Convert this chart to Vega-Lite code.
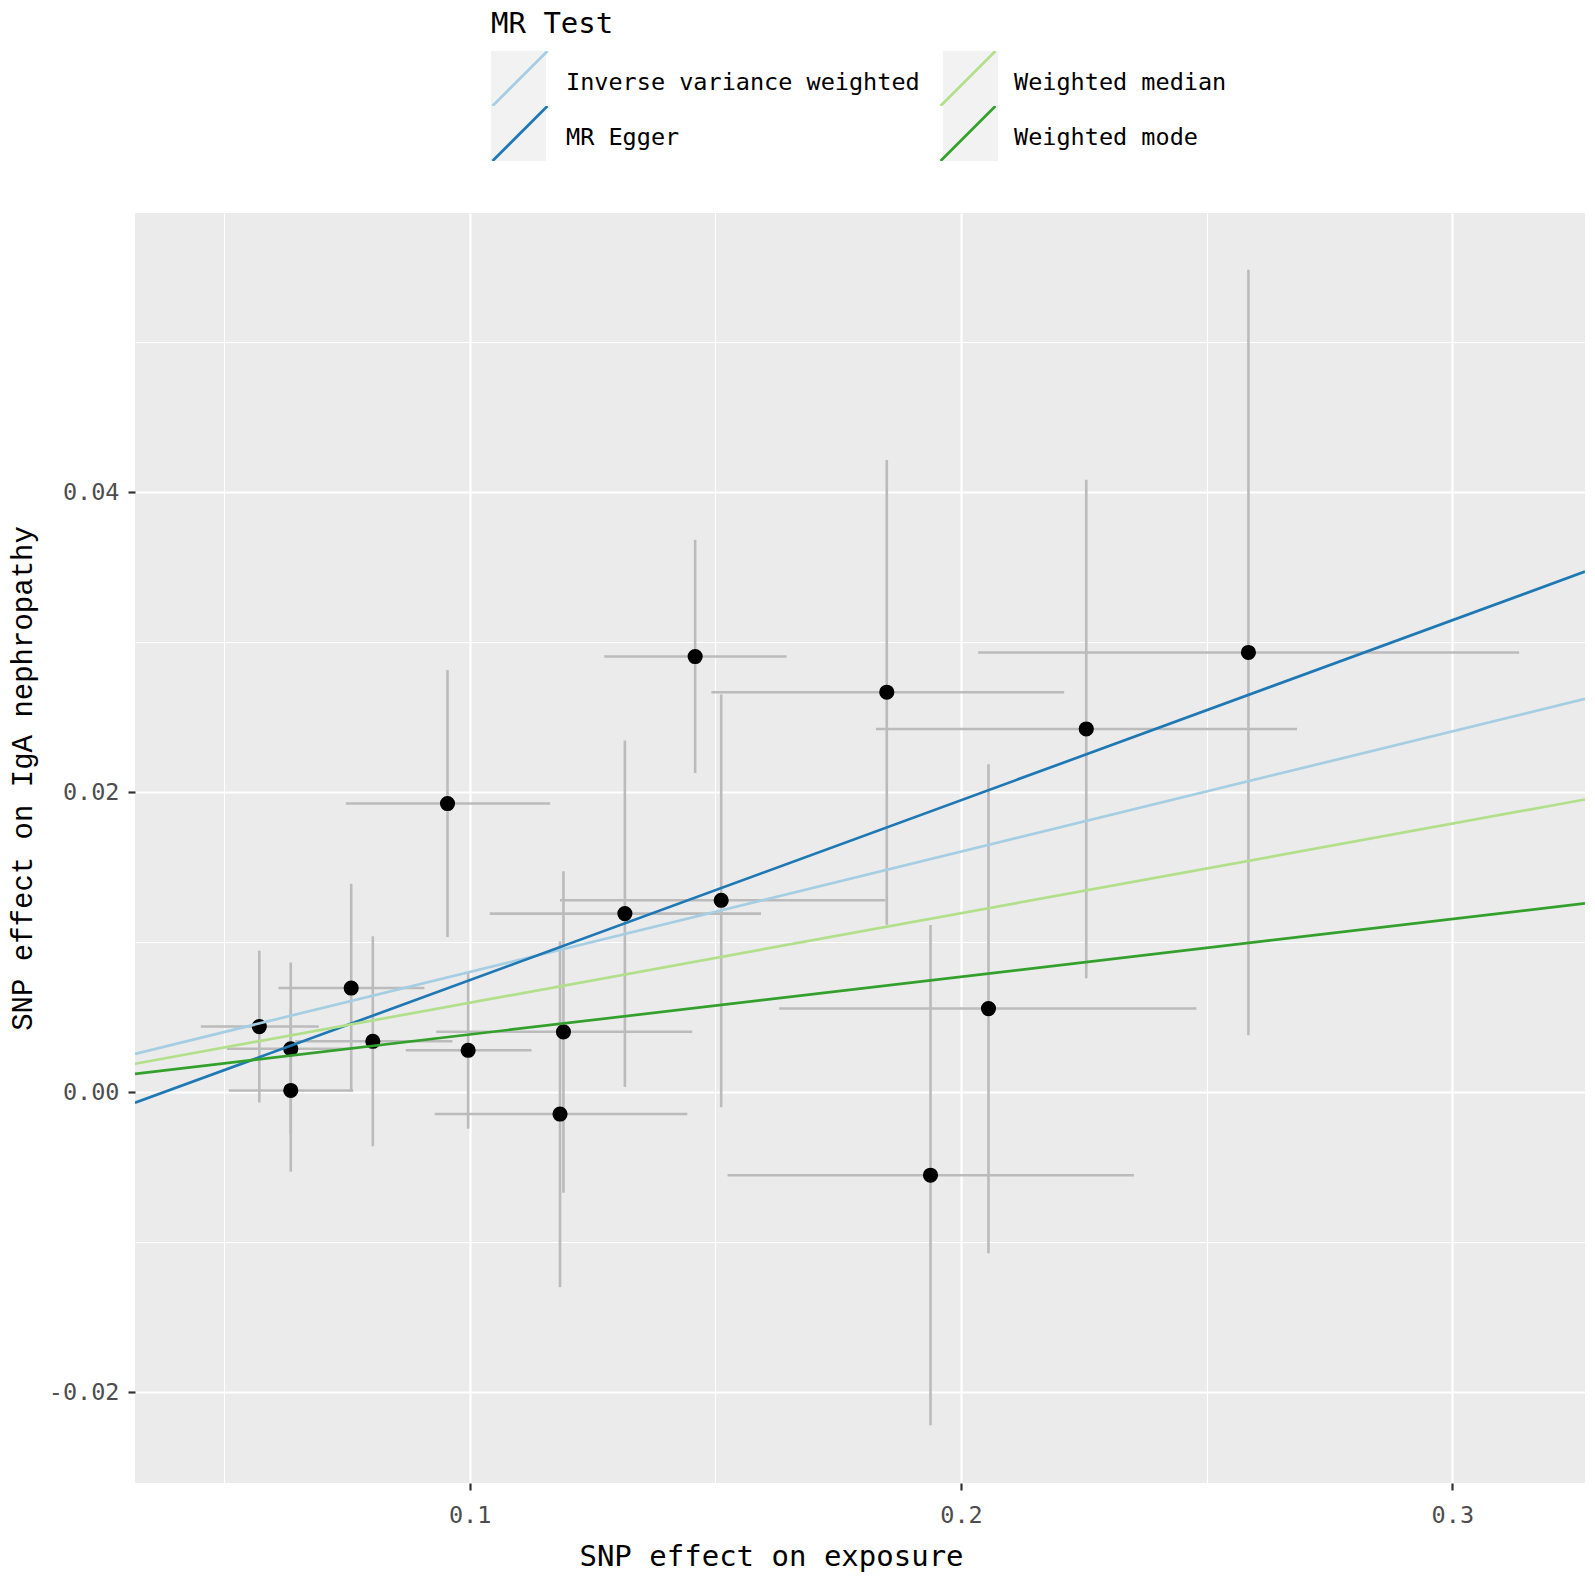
{
  "$schema": "https://vega.github.io/schema/vega-lite/v6.json",
  "description": "MR scatter plot: SNP effect on exposure vs SNP effect on IgA nephropathy",
  "width": 1450,
  "height": 1270,
  "autosize": {"type": "none"},
  "padding": {"left": 135, "top": 213, "right": 10, "bottom": 96},
  "background": "white",
  "config": {
    "view": {"fill": "#EBEBEB", "stroke": null},
    "axis": {
      "domain": false,
      "gridColor": "white",
      "tickColor": "#333333",
      "tickWidth": 2.2,
      "tickSize": 7,
      "labelFont": "DejaVu Sans Mono",
      "labelFontSize": 23.5,
      "labelColor": "#4D4D4D",
      "titleFontWeight": "normal",
      "titleColor": "black",
      "titleFontSize": 29
    }
  },
  "datasets": {
    "snps": [
      {"bx": 0.0572, "by": 0.00438, "bx_lo": 0.0453, "bx_hi": 0.0693, "by_lo": -0.00068, "by_hi": 0.00944},
      {"bx": 0.0636, "by": 0.00290, "bx_lo": 0.0506, "bx_hi": 0.0762, "by_lo": -0.00285, "by_hi": 0.00865},
      {"bx": 0.0636, "by": 0.00012, "bx_lo": 0.0510, "bx_hi": 0.0763, "by_lo": -0.00530, "by_hi": 0.00554},
      {"bx": 0.0759, "by": 0.00695, "bx_lo": 0.0611, "bx_hi": 0.0908, "by_lo": 0.00005, "by_hi": 0.01390},
      {"bx": 0.0803, "by": 0.00340, "bx_lo": 0.0645, "bx_hi": 0.0965, "by_lo": -0.00360, "by_hi": 0.01040},
      {"bx": 0.0997, "by": 0.00280, "bx_lo": 0.0870, "bx_hi": 0.1126, "by_lo": -0.00243, "by_hi": 0.00800},
      {"bx": 0.0955, "by": 0.01925, "bx_lo": 0.0748, "bx_hi": 0.1164, "by_lo": 0.01035, "by_hi": 0.02815},
      {"bx": 0.1191, "by": 0.00403, "bx_lo": 0.0932, "bx_hi": 0.1453, "by_lo": -0.00670, "by_hi": 0.01474},
      {"bx": 0.1184, "by": -0.00145, "bx_lo": 0.0929, "bx_hi": 0.1443, "by_lo": -0.01300, "by_hi": 0.01005},
      {"bx": 0.1316, "by": 0.01191, "bx_lo": 0.1041, "bx_hi": 0.1593, "by_lo": 0.00035, "by_hi": 0.02346},
      {"bx": 0.1459, "by": 0.02905, "bx_lo": 0.1274, "bx_hi": 0.1645, "by_lo": 0.02128, "by_hi": 0.03683},
      {"bx": 0.1512, "by": 0.01280, "bx_lo": 0.1184, "bx_hi": 0.1846, "by_lo": -0.00100, "by_hi": 0.02652},
      {"bx": 0.1849, "by": 0.02667, "bx_lo": 0.1492, "bx_hi": 0.2210, "by_lo": 0.01116, "by_hi": 0.04216},
      {"bx": 0.1938, "by": -0.00553, "bx_lo": 0.1525, "bx_hi": 0.2352, "by_lo": -0.02220, "by_hi": 0.01115},
      {"bx": 0.2056, "by": 0.00558, "bx_lo": 0.1630, "bx_hi": 0.2479, "by_lo": -0.01074, "by_hi": 0.02187},
      {"bx": 0.2255, "by": 0.02422, "bx_lo": 0.1827, "bx_hi": 0.2684, "by_lo": 0.00760, "by_hi": 0.04084},
      {"bx": 0.2585, "by": 0.02932, "bx_lo": 0.2035, "bx_hi": 0.3136, "by_lo": 0.00380, "by_hi": 0.05483}
    ],
    "fits": [
      {"method": "Inverse variance weighted", "bx": 0.0319, "by": 0.00256},
      {"method": "Inverse variance weighted", "bx": 0.3270, "by": 0.02623},
      {"method": "MR Egger", "bx": 0.0319, "by": -0.00070},
      {"method": "MR Egger", "bx": 0.3270, "by": 0.03471},
      {"method": "Weighted median", "bx": 0.0319, "by": 0.00190},
      {"method": "Weighted median", "bx": 0.3270, "by": 0.01952},
      {"method": "Weighted mode", "bx": 0.0319, "by": 0.00123},
      {"method": "Weighted mode", "bx": 0.3270, "by": 0.01259}
    ]
  },
  "layer": [
    {
      "data": {"name": "snps"},
      "mark": {"type": "rule", "color": "#BBBBBB", "strokeWidth": 2.6},
      "encoding": {
        "x": {
          "field": "bx_lo",
          "type": "quantitative",
          "scale": {"domain": [0.0319, 0.327], "nice": false, "zero": false},
          "axis": {
            "values": [0.05, 0.1, 0.15, 0.2, 0.25, 0.3],
            "labelExpr": "abs(datum.value*10-round(datum.value*10))<0.001 ? format(datum.value,'.1f') : ''",
            "gridWidth": {"condition": {"test": "abs(datum.value*10-round(datum.value*10))<0.001", "value": 2.2}, "value": 1.1},
            "tickOpacity": {"condition": {"test": "abs(datum.value*10-round(datum.value*10))<0.001", "value": 1}, "value": 0},
            "labelPadding": 13,
            "title": "SNP effect on exposure",
            "titleFont": "DejaVu Sans Mono",
            "titleX": 636,
            "titleY": 73,
            "titleAlign": "center",
            "titleBaseline": "middle"
          }
        },
        "x2": {"field": "bx_hi"},
        "y": {
          "field": "by",
          "type": "quantitative",
          "scale": {"domain": [-0.02605, 0.05862], "nice": false, "zero": false},
          "axis": {
            "values": [-0.02, -0.01, 0, 0.01, 0.02, 0.03, 0.04, 0.05],
            "labelExpr": "abs(datum.value*50-round(datum.value*50))<0.001 ? replace(format(datum.value,'.2f'),'\u2212','-') : ''",
            "gridWidth": {"condition": {"test": "abs(datum.value*50-round(datum.value*50))<0.001", "value": 2.2}, "value": 1.1},
            "tickOpacity": {"condition": {"test": "abs(datum.value*50-round(datum.value*50))<0.001", "value": 1}, "value": 0},
            "labelPadding": 9,
            "title": "SNP effect on IgA nephropathy",
            "titleFont": "Liberation Mono",
            "titleX": -113,
            "titleY": 565,
            "titleAlign": "center",
            "titleBaseline": "middle"
          }
        }
      }
    },
    {
      "data": {"name": "snps"},
      "mark": {"type": "rule", "color": "#BBBBBB", "strokeWidth": 2.6},
      "encoding": {
        "x": {"field": "bx", "type": "quantitative"},
        "y": {"field": "by_lo", "type": "quantitative"},
        "y2": {"field": "by_hi"}
      }
    },
    {
      "data": {"name": "snps"},
      "mark": {"type": "point", "shape": "circle", "filled": true, "color": "black", "opacity": 1, "size": 230},
      "encoding": {
        "x": {"field": "bx", "type": "quantitative"},
        "y": {"field": "by", "type": "quantitative"}
      }
    },
    {
      "data": {"name": "fits"},
      "mark": {"type": "point", "shape": "square", "filled": true, "opacity": 0},
      "encoding": {
        "x": {"field": "bx", "type": "quantitative"},
        "y": {"field": "by", "type": "quantitative"},
        "fill": {
          "field": "method",
          "type": "nominal",
          "scale": {
            "domain": ["MR Egger", "Inverse variance weighted", "Weighted mode", "Weighted median"],
            "range": ["#F2F2F2", "#F2F2F2", "#F2F2F2", "#F2F2F2"]
          },
          "legend": {
            "title": null,
            "orient": "none",
            "legendX": 356,
            "legendY": -162,
            "zindex": 0,
            "columns": 2,
            "padding": 0,
            "columnPadding": 397,
            "rowPadding": 0,
            "clipHeight": 55,
            "labelExpr": "''",
            "labelOffset": 0,
            "labelFontSize": 1,
            "symbolType": "square",
            "symbolSize": 3025,
            "symbolStrokeWidth": 0,
            "symbolOpacity": 1
          }
        }
      }
    },
    {
      "data": {"name": "fits"},
      "mark": {"type": "line", "strokeWidth": 2.7, "clip": true},
      "encoding": {
        "x": {"field": "bx", "type": "quantitative"},
        "y": {"field": "by", "type": "quantitative"},
        "color": {
          "field": "method",
          "type": "nominal",
          "scale": {
            "domain": ["Inverse variance weighted", "MR Egger", "Weighted median", "Weighted mode"],
            "range": ["#A6CEE3", "#1F78B4", "#B2DF8A", "#33A02C"]
          },
          "legend": {
            "title": "MR Test",
            "orient": "none",
            "legendX": 356,
            "legendY": -203,
            "zindex": 1,
            "columns": 2,
            "padding": 0,
            "columnPadding": 19,
            "rowPadding": 0,
            "clipHeight": 55,
            "titleFont": "DejaVu Sans Mono",
            "titleFontSize": 29,
            "titleFontWeight": "normal",
            "titleColor": "black",
            "titlePadding": 12,
            "labelFont": "DejaVu Sans Mono",
            "labelFontSize": 23.5,
            "labelColor": "black",
            "labelOffset": 17,
            "labelLimit": 600,
            "symbolType": "M-1,1L1,-1",
            "symbolSize": 3025,
            "symbolStrokeWidth": 2.7,
            "symbolFillColor": "transparent",
            "encode": {"labels": {"update": {"dy": {"value": 4}}}}
          }
        }
      }
    }
  ]
}
